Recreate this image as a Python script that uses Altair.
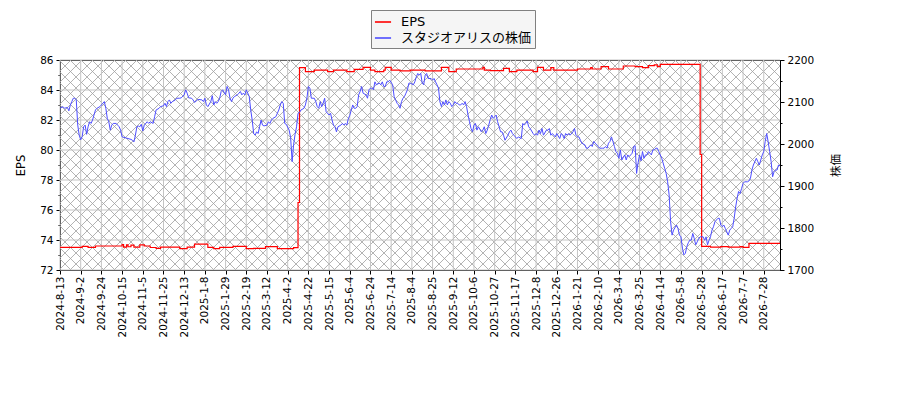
import pandas as pd
import altair as alt

# x-axis tick labels, one every 14 trading days
tick_labels = [
    "2024-8-13", "2024-9-2", "2024-9-24", "2024-10-15", "2024-11-5", "2024-11-25",
    "2024-12-13", "2025-1-8", "2025-1-29", "2025-2-19", "2025-3-12", "2025-4-2",
    "2025-4-22", "2025-5-15", "2025-6-4", "2025-6-24", "2025-7-14", "2025-8-4",
    "2025-8-25", "2025-9-12", "2025-10-6", "2025-10-27", "2025-11-17", "2025-12-8",
    "2025-12-26", "2026-1-21", "2026-2-10", "2026-3-4", "2026-3-25", "2026-4-14",
    "2026-5-8", "2026-5-28", "2026-6-17", "2026-7-7", "2026-7-28",
]
tick_step = 14
last_idx = 487

# (trading day index, price)
price_points = [
    (0, 2085), (2, 2089), (3, 2085), (5, 2087), (6, 2079), (7, 2093), (8, 2101), (9, 2109),
    (10, 2109), (11, 2105), (12, 2045), (13, 2021), (14, 2010), (15, 2018), (16, 2041),
    (17, 2045), (18, 2023), (19, 2041), (20, 2053), (21, 2049), (22, 2057), (23, 2069),
    (24, 2081), (25, 2085), (27, 2089), (28, 2093), (29, 2097), (30, 2101), (31, 2085),
    (32, 2061), (33, 2053), (34, 2033), (35, 2045), (36, 2049), (38, 2049), (39, 2045),
    (40, 2041), (41, 2033), (42, 2017), (44, 2015), (46, 2013), (48, 2011), (49, 2009),
    (50, 2005), (51, 2021), (52, 2041), (53, 2043), (54, 2041), (55, 2047), (56, 2031),
    (57, 2045), (59, 2053), (60, 2049), (61, 2053), (63, 2049), (64, 2065), (65, 2081),
    (67, 2085), (68, 2089), (70, 2091), (71, 2097), (72, 2089), (73, 2101), (74, 2105),
    (75, 2097), (76, 2101), (78, 2105), (79, 2109), (81, 2109), (82, 2110), (84, 2117),
    (85, 2129), (86, 2121), (87, 2110), (89, 2109), (90, 2105), (91, 2099), (93, 2105),
    (94, 2106), (96, 2105), (97, 2101), (98, 2109),
    (99, 2093), (100, 2089), (102, 2101), (103, 2115), (104, 2093), (105, 2101), (106, 2097),
    (107, 2101), (108, 2109), (109, 2125), (110, 2129), (112, 2117), (113, 2137), (114, 2129),
    (115, 2109), (116, 2101), (117, 2109), (118, 2113), (120, 2117), (121, 2121), (122, 2125),
    (123, 2117), (124, 2121), (125, 2117), (126, 2129), (128, 2113), (129, 2081), (130, 2057),
    (131, 2025), (132, 2021), (133, 2029), (134, 2025), (135, 2041), (136, 2057), (137, 2045),
    (138, 2043), (140, 2045), (141, 2053), (142, 2049), (143, 2057), (144, 2061), (146, 2065),
    (147, 2073), (148, 2081), (149, 2093), (150, 2101), (151, 2097), (152, 2049), (153, 2047),
    (155, 2033), (156, 2015), (157, 1958), (158, 1998), (159, 2023), (160, 2041), (161, 2073),
    (162, 2075), (163, 2081), (165, 2085), (166, 2093), (167, 2109), (168, 2137), (169, 2133),
    (170, 2109), (172, 2109), (173, 2101), (174, 2089), (175, 2085), (176, 2101), (177, 2089),
    (178, 2097), (179, 2109), (180, 2077), (182, 2069), (183, 2073), (184, 2057), (185, 2045),
    (186, 2041), (187, 2029), (188, 2041), (190, 2045), (191, 2049), (192, 2045), (193, 2049),
    (194, 2045), (195, 2060), (196, 2068),
    (197, 2081), (198, 2093), (199, 2085), (200, 2085), (201, 2089), (202, 2117), (203, 2125),
    (204, 2137), (205, 2121), (207, 2117), (208, 2109), (209, 2129), (210, 2133), (211, 2133),
    (212, 2129), (213, 2148), (214, 2141), (216, 2145), (217, 2141), (218, 2148), (219, 2137),
    (220, 2137), (221, 2148), (222, 2148), (223, 2152), (225, 2141), (226, 2113), (227, 2105),
    (228, 2097), (229, 2093), (230, 2085), (231, 2101), (232, 2109), (233, 2113), (234, 2121),
    (235, 2129), (236, 2145), (237, 2145), (239, 2141), (240, 2148), (241, 2160), (242, 2168),
    (243, 2164), (244, 2168), (245, 2145), (246, 2141), (247, 2164), (248, 2168), (249, 2156),
    (251, 2156), (252, 2152), (253, 2156), (254, 2148), (255, 2141), (256, 2133), (257, 2100),
    (258, 2089), (259, 2101), (260, 2093), (261, 2105), (262, 2093), (263, 2101), (264, 2097),
    (265, 2089), (266, 2093), (267, 2101), (268, 2097), (269, 2097), (270, 2093), (271, 2093),
    (272, 2097), (273, 2093), (274, 2101), (275, 2089), (276, 2069), (277, 2053), (278, 2037),
    (279, 2029), (280, 2045), (281, 2049), (282, 2033), (283, 2041), (285, 2029), (286, 2033),
    (287, 2041), (288, 2025), (289, 2033), (290, 2045), (291, 2058), (292, 2069), (293, 2061),
    (294, 2065), (295, 2069),
    (296, 2053), (297, 2041), (298, 2029), (299, 2029), (300, 2021), (301, 2009), (303, 2021),
    (304, 2029), (305, 2033), (306, 2025), (307, 2021), (308, 2017), (309, 2013), (310, 2017),
    (312, 2013), (313, 2049), (314, 2045), (315, 2049), (316, 2055), (317, 2041), (318, 2037),
    (320, 2025), (321, 2021), (322, 2025), (323, 2021), (324, 2033), (325, 2025), (326, 2037),
    (327, 2021), (329, 2033), (330, 2033), (331, 2037), (332, 2021), (333, 2025), (334, 2021),
    (335, 2017), (336, 2025), (338, 2013), (339, 2025), (340, 2021), (341, 2013), (342, 2025),
    (343, 2021), (344, 2025), (345, 2021), (347, 2029), (348, 2037), (349, 2021), (350, 2017),
    (351, 2017), (352, 2009), (353, 2002), (355, 1998), (356, 1990), (357, 1990), (358, 1994),
    (359, 1998), (360, 1994), (361, 2006), (362, 2002), (364, 1994), (365, 1990), (366, 1990),
    (367, 1990), (368, 1990), (369, 1994), (370, 1990), (371, 2002), (372, 2006), (373, 2017),
    (374, 2006), (375, 1994), (376, 1982), (377, 1978), (378, 1966), (379, 1986), (380, 1962),
    (382, 1974), (383, 1962), (384, 1974), (385, 1970), (386, 1974), (387, 1978), (388, 1994),
    (389, 1996), (390, 1930), (391, 1955), (392, 1974), (393, 1960),
    (394, 1982), (395, 1966), (396, 1974), (397, 1974), (398, 1982), (400, 1974), (401, 1986),
    (402, 1986), (403, 1990), (404, 1990), (405, 1982), (406, 1974), (407, 1966), (409, 1942),
    (410, 1930), (411, 1910), (412, 1879), (413, 1815), (414, 1783), (415, 1795), (417, 1807),
    (418, 1799), (419, 1783), (420, 1779), (421, 1752), (422, 1736), (423, 1740), (424, 1756),
    (425, 1765), (426, 1771), (427, 1771), (428, 1787), (429, 1775), (430, 1760), (431, 1767),
    (432, 1775), (433, 1779), (435, 1779), (436, 1771), (437, 1779), (438, 1760), (439, 1771),
    (440, 1779), (441, 1795), (442, 1803), (443, 1815), (445, 1823), (446, 1823), (447, 1807),
    (448, 1803), (449, 1807), (450, 1799), (452, 1783), (453, 1795), (454, 1799), (455, 1803),
    (456, 1823), (457, 1850), (458, 1871), (459, 1887), (460, 1882), (461, 1894), (462, 1906),
    (463, 1910), (465, 1910), (466, 1912), (467, 1918), (468, 1938), (469, 1950), (470, 1958),
    (471, 1966), (472, 1958), (473, 1950), (474, 1962), (475, 1974), (476, 1982), (477, 2006),
    (478, 2025), (479, 2005), (480, 1982), (481, 1958), (482, 1922), (483, 1934), (484, 1938),
    (485, 1938), (486, 1950), (487, 1948),
]

# EPS change points (trading day index, EPS), drawn as a step line
eps_points = [
    (0, 73.51), (15, 73.58), (19, 73.51), (24, 73.60), (42, 73.70), (43, 73.52), (45, 73.68),
    (46, 73.55), (48, 73.66), (50, 73.52), (54, 73.67), (57, 73.60), (61, 73.50), (65, 73.44),
    (68, 73.52), (70, 73.53), (81, 73.42), (86, 73.53), (91, 73.72), (100, 73.51), (104, 73.42),
    (108, 73.51), (117, 73.58), (126, 73.42), (131, 73.44), (139, 73.56), (147, 73.42),
    (158, 73.49), (161, 76.50), (162, 85.49), (166, 85.22), (172, 85.33), (181, 85.22),
    (185, 85.33), (194, 85.22), (199, 85.38), (205, 85.51), (210, 85.33), (213, 85.22),
    (219, 85.33), (220, 85.51), (224, 85.33), (230, 85.27), (237, 85.33), (247, 85.27),
    (258, 85.51), (263, 85.22), (268, 85.40), (286, 85.51), (287, 85.33), (291, 85.29),
    (300, 85.44), (304, 85.22), (309, 85.33), (320, 85.22), (323, 85.51), (327, 85.33),
    (332, 85.49), (334, 85.33), (350, 85.40), (359, 85.49), (360, 85.40), (366, 85.56),
    (371, 85.40), (381, 85.60), (389, 85.56), (394, 85.49), (398, 85.62), (402, 85.67),
    (404, 85.56), (406, 85.71), (433, 79.70), (434, 73.58), (440, 73.53), (447, 73.56),
    (452, 73.53), (460, 73.56), (462, 73.51), (466, 73.78), (487, 73.78),
]

eps_name = "EPS"
price_name = "スタジオアリスの株価"
font = "DejaVu Sans, Noto Sans CJK JP"

W, H = 720, 210

price = pd.DataFrame(price_points, columns=["idx", "price"])
price["series"] = price_name
eps = pd.DataFrame(eps_points, columns=["idx", "eps"])
eps["series"] = eps_name
xticks = pd.DataFrame({"idx": [i * tick_step for i in range(len(tick_labels))]})
ygrid = pd.DataFrame({"v": list(range(72, 87, 2))})

# cross hatch of the plot background, in pixels
hatch_rows = []
for k in range(-H, W + 1, 11):
    hatch_rows.append({"x1": k, "y1": 0, "x2": k + H, "y2": H})
    hatch_rows.append({"x1": k, "y1": H, "x2": k + H, "y2": 0})
hatch = pd.DataFrame(hatch_rows)

x_scale = alt.Scale(domain=[0, last_idx], nice=False, zero=False)
color_scale = alt.Scale(domain=[eps_name, price_name], range=["#ff0000", "#4d4dff"])
label_js = "[" + ",".join("'%s'" % t for t in tick_labels) + "]"

hatch_layer = alt.Chart(hatch).mark_rule(clip=True, color="#a0a0a0", strokeWidth=0.8).encode(
    x=alt.X("x1:Q", scale=None, axis=None),
    y=alt.Y("y1:Q", scale=None, axis=None),
    x2="x2:Q",
    y2="y2:Q",
)

vgrid = alt.Chart(xticks).mark_rule(color="#c4c4c4", strokeWidth=1).encode(
    x=alt.X("idx:Q", scale=x_scale, axis=None)
)

hgrid = alt.Chart(ygrid).mark_rule(color="#c4c4c4", strokeWidth=1).encode(
    y=alt.Y("v:Q", scale=alt.Scale(domain=[72, 86], nice=False, zero=False), axis=None)
)

legend = alt.Legend(
    title=None, orient="none", legendX=311, legendY=-50,
    fillColor="#f5f5f5", strokeColor="#808080", padding=3,
    symbolType="stroke", symbolStrokeWidth=1.6, symbolSize=260,
    labelFont=font, labelFontSize=13, rowPadding=0, labelOffset=9,
)

eps_line = alt.Chart(eps).mark_line(interpolate="step-after", strokeWidth=1.2).encode(
    x=alt.X("idx:Q", scale=x_scale, axis=alt.Axis(
        orient="bottom", title=None, grid=False,
        values=xticks["idx"].tolist(),
        labelExpr=label_js + "[round(datum.value / %d)]" % tick_step,
        labelAngle=270, labelOverlap=False, labelFlush=False,
        labelPadding=2, tickSize=4,
    )),
    y=alt.Y("eps:Q", scale=alt.Scale(domain=[72, 86], nice=False, zero=False), axis=alt.Axis(
        orient="left", title="EPS", grid=False,
        values=list(range(72, 87)),
        labelExpr="datum.value % 2 === 0 ? datum.label : ''",
        tickSize={"condition": {"test": "datum.value % 2 === 0", "value": 4}, "value": 2},
        labelPadding=3, titlePadding=13, labelFlush=False,
    )),
    color=alt.Color("series:N", scale=color_scale, legend=legend),
)

price_line = alt.Chart(price).mark_line(strokeWidth=1).encode(
    x=alt.X("idx:Q", scale=x_scale, axis=None),
    y=alt.Y("price:Q", scale=alt.Scale(domain=[1700, 2200], nice=False, zero=False), axis=alt.Axis(
        orient="right", title="株価", grid=False,
        values=list(range(1700, 2201, 50)),
        labelExpr="datum.value % 100 === 0 ? datum.label : ''",
        tickSize={"condition": {"test": "datum.value % 100 === 0", "value": 4}, "value": 2},
        format="d", labelPadding=3, titlePadding=28, titleAngle=270, labelFlush=False,
    )),
    color=alt.Color("series:N", scale=color_scale, legend=legend),
)

chart = alt.layer(hatch_layer, vgrid, hgrid, eps_line, price_line).resolve_scale(
    x="independent", y="independent"
).properties(
    width=W, height=H,
    autosize=alt.AutoSizeParams(type="none"),
    padding={"left": 52, "top": 52, "right": 110, "bottom": 110},
).configure_view(
    stroke="black", strokeWidth=1
).configure_axis(
    labelFont=font, titleFont=font, labelFontSize=10.5, titleFontSize=11.5,
    titleFontWeight="normal", labelColor="black", titleColor="black",
    domainColor="black", tickColor="black",
)

chart.save("out.html", embed_options={"renderer": "svg", "actions": False})
